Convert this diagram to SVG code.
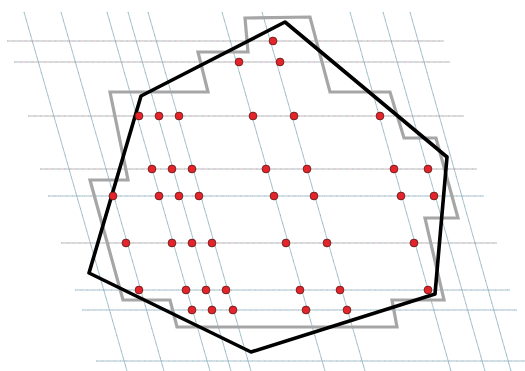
<svg xmlns="http://www.w3.org/2000/svg" width="525" height="371" viewBox="0 0 525 371">
<style>
.bg{fill:#ffffff}
.gb{stroke:#5f9bb5;stroke-width:1;stroke-dasharray:1 1.4;fill:none;opacity:0.85}
.gr{stroke:#d4897e;stroke-width:1;stroke-dasharray:1 1.4;stroke-dashoffset:1.2;fill:none;opacity:0.85}
.gg{stroke:#8fa3ab;stroke-width:1;stroke-dasharray:1 1.4;stroke-dashoffset:1.2;fill:none;opacity:0.8}
.cell{fill:none;stroke:#a6a6a6;stroke-width:3.2;stroke-linejoin:miter}
.hull{fill:none;stroke:#000000;stroke-width:3.6;stroke-linejoin:round}
.pt{fill:#e5232b;stroke:#5a1a14;stroke-width:0.8}
</style>
<rect class="bg" x="0" y="0" width="525" height="371"/>
<g id="grid">
  <g id="slanted">
    <line class="gg" x1="24" y1="12" x2="127" y2="371"/><line class="gb" x1="24" y1="12" x2="127" y2="371"/>
    <line class="gg" x1="61" y1="12" x2="164" y2="371"/><line class="gb" x1="61" y1="12" x2="164" y2="371"/>
    <line class="gg" x1="107" y1="12" x2="210" y2="371"/><line class="gb" x1="107" y1="12" x2="210" y2="371"/>
    <line class="gg" x1="128" y1="12" x2="231" y2="371"/><line class="gb" x1="128" y1="12" x2="231" y2="371"/>
    <line class="gg" x1="148" y1="12" x2="251" y2="371"/><line class="gb" x1="148" y1="12" x2="251" y2="371"/>
    <line class="gg" x1="222" y1="12" x2="325" y2="371"/><line class="gb" x1="222" y1="12" x2="325" y2="371"/>
    <line class="gg" x1="262" y1="12" x2="365" y2="371"/><line class="gb" x1="262" y1="12" x2="365" y2="371"/>
    <line class="gg" x1="350" y1="12" x2="451" y2="371"/><line class="gb" x1="350" y1="12" x2="451" y2="371"/>
    <line class="gg" x1="383" y1="12" x2="485" y2="371"/><line class="gb" x1="383" y1="12" x2="485" y2="371"/>
    <line class="gg" x1="410" y1="12" x2="511" y2="371"/><line class="gb" x1="410" y1="12" x2="511" y2="371"/>
  </g>
  <g id="horizontal">
    <line class="gr" x1="7" y1="41" x2="444" y2="41"/><line class="gb" x1="7" y1="41" x2="444" y2="41"/>
    <line class="gr" x1="14" y1="62" x2="450" y2="62"/><line class="gb" x1="14" y1="62" x2="450" y2="62"/>
    <line class="gr" x1="28" y1="116" x2="464" y2="116"/><line class="gb" x1="28" y1="116" x2="464" y2="116"/>
    <line class="gr" x1="40" y1="169" x2="477" y2="169"/><line class="gb" x1="40" y1="169" x2="477" y2="169"/>
    <line class="gg" x1="48" y1="196" x2="484" y2="196"/><line class="gb" x1="48" y1="196" x2="484" y2="196"/>
    <line class="gr" x1="61" y1="243" x2="497" y2="243"/><line class="gb" x1="61" y1="243" x2="497" y2="243"/>
    <line class="gg" x1="75" y1="290" x2="510" y2="290"/><line class="gb" x1="75" y1="290" x2="510" y2="290"/>
    <line class="gg" x1="82" y1="310" x2="517" y2="310"/><line class="gb" x1="82" y1="310" x2="517" y2="310"/>
    <line class="gg" x1="96" y1="361" x2="525" y2="361"/><line class="gb" x1="96" y1="361" x2="525" y2="361"/>
  </g>
</g>
<g id="cell">
  <polygon class="cell" points="245,18 310,17 330,92 390,92 404,138 436,138 458,218 425,218 444,300 392,300 397,327 177,327 170,300 123,300 90,180 128,180 110,92 208,92 198,52 248,52"/>
</g>
<g id="hull">
  <polygon class="hull" points="285,22 447,157 435,294 251,352 89,273 141,96"/>
</g>
<g id="points">
  <circle class="pt" cx="273" cy="41" r="3.9"/>
  <circle class="pt" cx="239" cy="62" r="3.9"/>
  <circle class="pt" cx="280" cy="62" r="3.9"/>
  <circle class="pt" cx="139" cy="116" r="3.9"/>
  <circle class="pt" cx="159" cy="116" r="3.9"/>
  <circle class="pt" cx="179" cy="116" r="3.9"/>
  <circle class="pt" cx="253" cy="116" r="3.9"/>
  <circle class="pt" cx="294" cy="116" r="3.9"/>
  <circle class="pt" cx="380" cy="116" r="3.9"/>
  <circle class="pt" cx="152" cy="169" r="3.9"/>
  <circle class="pt" cx="172" cy="169" r="3.9"/>
  <circle class="pt" cx="192" cy="169" r="3.9"/>
  <circle class="pt" cx="266" cy="169" r="3.9"/>
  <circle class="pt" cx="307" cy="169" r="3.9"/>
  <circle class="pt" cx="394" cy="169" r="3.9"/>
  <circle class="pt" cx="428" cy="169" r="3.9"/>
  <circle class="pt" cx="113" cy="196" r="3.9"/>
  <circle class="pt" cx="159" cy="196" r="3.9"/>
  <circle class="pt" cx="179" cy="196" r="3.9"/>
  <circle class="pt" cx="199" cy="196" r="3.9"/>
  <circle class="pt" cx="274" cy="196" r="3.9"/>
  <circle class="pt" cx="314" cy="196" r="3.9"/>
  <circle class="pt" cx="401" cy="196" r="3.9"/>
  <circle class="pt" cx="434" cy="196" r="3.9"/>
  <circle class="pt" cx="126" cy="243" r="3.9"/>
  <circle class="pt" cx="172" cy="243" r="3.9"/>
  <circle class="pt" cx="192" cy="243" r="3.9"/>
  <circle class="pt" cx="212" cy="243" r="3.9"/>
  <circle class="pt" cx="286" cy="243" r="3.9"/>
  <circle class="pt" cx="327" cy="243" r="3.9"/>
  <circle class="pt" cx="414" cy="243" r="3.9"/>
  <circle class="pt" cx="139" cy="290" r="3.9"/>
  <circle class="pt" cx="186" cy="290" r="3.9"/>
  <circle class="pt" cx="206" cy="290" r="3.9"/>
  <circle class="pt" cx="226" cy="290" r="3.9"/>
  <circle class="pt" cx="300" cy="290" r="3.9"/>
  <circle class="pt" cx="340" cy="290" r="3.9"/>
  <circle class="pt" cx="428" cy="290" r="3.9"/>
  <circle class="pt" cx="192" cy="310" r="3.9"/>
  <circle class="pt" cx="212" cy="310" r="3.9"/>
  <circle class="pt" cx="233" cy="310" r="3.9"/>
  <circle class="pt" cx="306" cy="310" r="3.9"/>
  <circle class="pt" cx="347" cy="310" r="3.9"/>
</g>
</svg>
